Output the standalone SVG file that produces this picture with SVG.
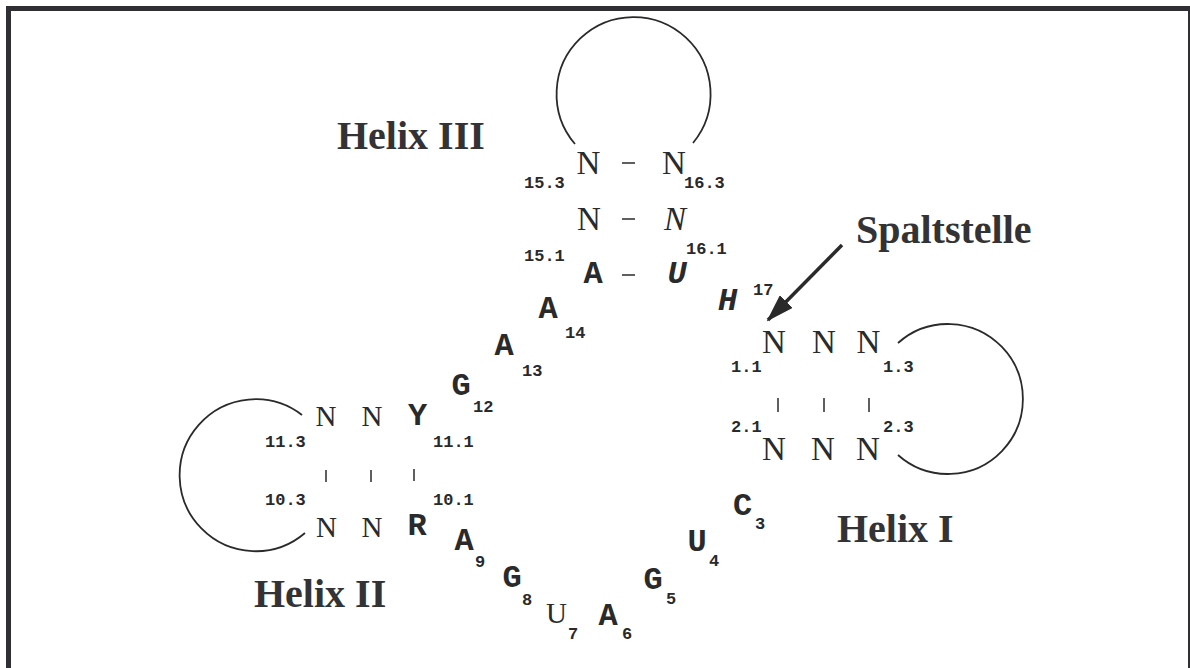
<svg xmlns="http://www.w3.org/2000/svg" width="1190" height="668" viewBox="0 0 1190 668">
<style>
.lbl{font-family:"Liberation Serif","Times New Roman",serif;font-weight:bold;font-size:40px;fill:#333336}
.n{font-family:"Liberation Serif","Times New Roman",serif;font-size:33px;fill:#2a2a2a;text-anchor:middle}
.ns{font-family:"Liberation Serif","Times New Roman",serif;font-size:29px;fill:#2a2a2a;text-anchor:middle}
.b{font-family:"Liberation Mono","Courier New",monospace;font-weight:bold;font-size:32px;fill:#2a2a2a;text-anchor:middle}
.bi{font-style:italic}
.num{font-family:"Liberation Mono","Courier New",monospace;font-weight:bold;font-size:17px;fill:#2a2a2a}
.loop{fill:none;stroke:#2a2a2a;stroke-width:1.8}
.bond{stroke:#2a2a2a;stroke-width:1.5}
.arrow{stroke:#2a2a2a;stroke-width:3.5;fill:none}
</style>
<defs>
<marker id="ah" markerUnits="userSpaceOnUse" markerWidth="28" markerHeight="18" refX="26" refY="9" orient="auto">
<path d="M0,0 L28,9 L0,18 z" fill="#2a2a2a"/>
</marker>
</defs>
<rect x="8.5" y="8.5" width="1182" height="700" fill="#ffffff" stroke="#303034" stroke-width="5"/>

<g id="connectors">
<line class="bond" x1="622" y1="163" x2="635" y2="163"/>
<line class="bond" x1="622" y1="219" x2="635" y2="219"/>
<line class="bond" x1="622" y1="275" x2="635" y2="275"/>
<line class="bond" x1="778" y1="398" x2="778" y2="412"/>
<line class="bond" x1="824" y1="398" x2="824" y2="412"/>
<line class="bond" x1="869" y1="398" x2="869" y2="412"/>
<line class="bond" x1="326" y1="470" x2="326" y2="482"/>
<line class="bond" x1="371" y1="470" x2="371" y2="482"/>
<line class="bond" x1="414" y1="469" x2="414" y2="481"/>
<line class="arrow" x1="842" y1="245" x2="768" y2="320" marker-end="url(#ah)"/>
</g>

<g id="helix3">
<path class="loop" d="M575,144 A77,77 0 1 1 693,143"/>
<text class="n" x="588.5" y="174">N</text>
<text class="n" x="674" y="174">N</text>
<text class="n" x="589" y="230">N</text>
<text class="n" x="675" y="230" font-style="italic">N</text>
<text class="b" x="593" y="283">A</text>
<text class="b bi" x="677" y="283">U</text>
<text class="num" x="524" y="188">15.3</text>
<text class="num" x="684" y="188">16.3</text>
<text class="num" x="524" y="261">15.1</text>
<text class="num" x="686" y="254">16.1</text>
</g>

<g id="helix1">
<path class="loop" d="M898,343 A75,75 0 1 1 898,455"/>
<text class="n" x="774" y="353">N</text>
<text class="n" x="824" y="353">N</text>
<text class="n" x="868.5" y="353">N</text>
<text class="n" x="774" y="460">N</text>
<text class="n" x="823" y="460">N</text>
<text class="n" x="868" y="460">N</text>
<text class="num" x="731" y="372">1.1</text>
<text class="num" x="883" y="372">1.3</text>
<text class="num" x="731" y="432">2.1</text>
<text class="num" x="883" y="432">2.3</text>
</g>

<g id="helix2">
<path class="loop" d="M302,415 A76,76 0 1 0 305,533"/>
<text class="ns" x="326" y="426">N</text>
<text class="ns" x="372" y="426">N</text>
<text class="b" x="417.5" y="425">Y</text>
<text class="ns" x="326.5" y="537">N</text>
<text class="ns" x="372" y="537">N</text>
<text class="b" x="417" y="535">R</text>
<text class="num" x="265" y="447">11.3</text>
<text class="num" x="433" y="447">11.1</text>
<text class="num" x="265" y="505">10.3</text>
<text class="num" x="433" y="505">10.1</text>
</g>

<g id="nt17"><text class="b bi" x="727.5" y="310">H</text><text class="num" x="753" y="295">17</text></g>
<g id="nt14"><text class="b" x="548" y="318">A</text><text class="num" x="565" y="338">14</text></g>
<g id="nt13"><text class="b" x="504" y="355">A</text><text class="num" x="522" y="376">13</text></g>
<g id="nt12"><text class="b" x="461" y="395">G</text><text class="num" x="473" y="412">12</text></g>
<g id="nt9"><text class="b" x="464" y="550">A</text><text class="num" x="475" y="567">9</text></g>
<g id="nt8"><text class="b" x="512" y="587">G</text><text class="num" x="522" y="605">8</text></g>
<g id="nt7"><text class="ns" x="556.5" y="623">U</text><text class="num" x="568" y="639">7</text></g>
<g id="nt6"><text class="b" x="608" y="625">A</text><text class="num" x="622" y="639">6</text></g>
<g id="nt5"><text class="b" x="653" y="589">G</text><text class="num" x="666" y="604">5</text></g>
<g id="nt4"><text class="b" x="697" y="551">U</text><text class="num" x="709" y="566">4</text></g>
<g id="nt3"><text class="b" x="742.5" y="515">C</text><text class="num" x="755" y="529">3</text></g>

<g id="labels">
<text class="lbl" x="337" y="149">Helix III</text>
<text class="lbl" x="856" y="243" font-size="36">Spaltstelle</text>
<text class="lbl" x="837" y="542">Helix I</text>
<text class="lbl" x="254" y="607">Helix II</text>
</g>
</svg>
